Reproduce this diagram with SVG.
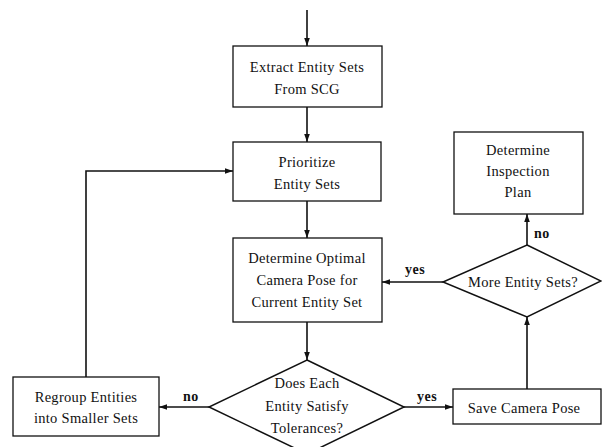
<svg xmlns="http://www.w3.org/2000/svg" width="602" height="447" viewBox="0 0 602 447">
<style>
.box{fill:#fff;stroke:#111;stroke-width:1.3}
.dia{fill:#fff;stroke:#111;stroke-width:1.5}
.t{font-family:"Liberation Serif","Times New Roman",serif;font-size:14.5px;letter-spacing:0.3px;fill:#111;text-anchor:middle}
.lbl{font-family:"Liberation Serif","Times New Roman",serif;font-size:14px;font-weight:bold;letter-spacing:0.5px;fill:#111}
.c{fill:none;stroke:#111;stroke-width:1.6;marker-end:url(#ah)}
</style>
<defs>
<marker id="ah" viewBox="0 0 10 10" refX="10" refY="5" markerWidth="5" markerHeight="5" markerUnits="strokeWidth" orient="auto">
<path d="M0,1.5 L10,5 L0,8.5 Z" fill="#111"/>
</marker>
</defs>
<rect width="602" height="447" fill="#fff"/>
<g id="connectors">
<path class="c" d="M307,10 V46"/>
<path class="c" d="M307,107 V142"/>
<path class="c" d="M307,201 V238"/>
<path class="c" d="M307,322 V360"/>
<path class="c" d="M209,407 H159"/>
<path class="c" d="M86,377 V171 H233"/>
<path class="c" d="M404,407 H453"/>
<path class="c" d="M527,389 V317"/>
<path class="c" d="M443,282 H382"/>
<path class="c" d="M527,245 V214"/>
<text class="lbl" x="183" y="401">no</text>
<text class="lbl" x="417" y="401">yes</text>
<text class="lbl" x="405" y="274">yes</text>
<text class="lbl" x="534" y="238">no</text>
</g>
<g id="extract">
<rect class="box" x="233" y="46" width="149" height="61"/>
<text class="t" x="307" y="72">Extract Entity Sets</text>
<text class="t" x="307" y="94">From SCG</text>
</g>
<g id="prioritize">
<rect class="box" x="233" y="142" width="148" height="59"/>
<text class="t" x="307" y="167">Prioritize</text>
<text class="t" x="307" y="189">Entity Sets</text>
</g>
<g id="optimal">
<rect class="box" x="233" y="238" width="149" height="84"/>
<text class="t" x="307" y="263">Determine Optimal</text>
<text class="t" x="307" y="285">Camera Pose for</text>
<text class="t" x="307" y="307">Current Entity Set</text>
</g>
<g id="satisfy">
<polygon class="dia" points="307,360 404,407 307,454 209,407"/>
<text class="t" x="307" y="388">Does Each</text>
<text class="t" x="307" y="411">Entity Satisfy</text>
<text class="t" x="307" y="433">Tolerances?</text>
</g>
<g id="regroup">
<rect class="box" x="13" y="377" width="146" height="59"/>
<text class="t" x="86" y="402">Regroup Entities</text>
<text class="t" x="86" y="423">into Smaller Sets</text>
</g>
<g id="save">
<rect class="box" x="453" y="389" width="148" height="35"/>
<text class="t" x="524" y="413">Save Camera Pose</text>
</g>
<g id="more">
<polygon class="dia" points="527,245 601,281 527,317 443,282"/>
<text class="t" x="523" y="287">More Entity Sets?</text>
</g>
<g id="plan">
<rect class="box" x="454" y="132" width="129" height="82"/>
<text class="t" x="518" y="155">Determine</text>
<text class="t" x="518" y="176">Inspection</text>
<text class="t" x="518" y="197">Plan</text>
</g>
</svg>
